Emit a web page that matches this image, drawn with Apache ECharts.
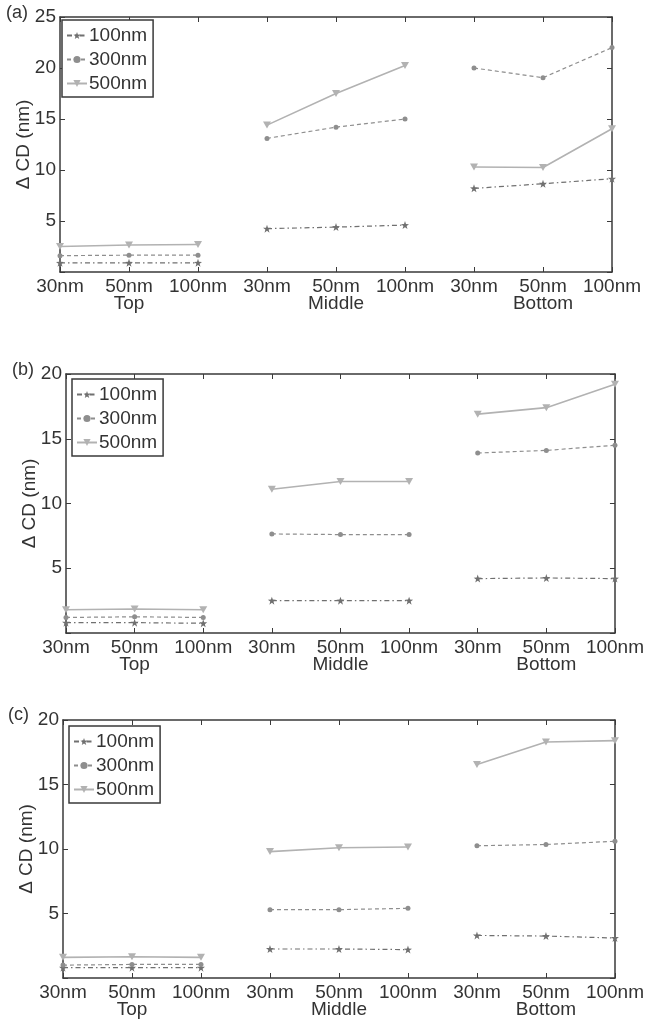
<!DOCTYPE html>
<html><head><meta charset="utf-8">
<script src="https://cdn.jsdelivr.net/npm/echarts@6/dist/echarts.min.js"></script>
<style>html,body{margin:0;padding:0;background:#fff}#c{width:647px;height:1020px}</style>
</head><body><div id="c"></div>
<script>
const tickLabels = ['30nm','50nm','100nm','30nm','50nm','100nm','30nm','50nm','100nm'];
const groupLabels = ['Top','Middle','Bottom'];
const seriesNames = ['100nm','300nm','500nm'];
const panelLabels = ['(a)','(b)','(c)'];
const yMax = [25, 20, 20];

const a100 = [0.9,0.9,0.9, 4.25,4.4,4.6, 8.2,8.65,9.15];
const a300 = [1.6,1.65,1.65, 13.1,14.2,15.0, 20.0,19.05,22.0];
const a500 = [2.5,2.65,2.7, 14.4,17.5,20.25, 10.3,10.25,14.05];

const b100 = [0.8,0.8,0.75, 2.5,2.5,2.5, 4.2,4.25,4.2];
const b300 = [1.2,1.25,1.2, 7.65,7.6,7.6, 13.9,14.1,14.5];
const b500 = [1.8,1.85,1.8, 11.1,11.7,11.7, 16.9,17.4,19.2];

const c100 = [0.8,0.8,0.8, 2.25,2.25,2.2, 3.3,3.25,3.1];
const c300 = [1.0,1.05,1.05, 5.3,5.3,5.4, 10.25,10.35,10.6];
const c500 = [1.6,1.65,1.6, 9.8,10.1,10.15, 16.55,18.3,18.4];

const panels = [[a100,a300,a500],[b100,b300,b500],[c100,c300,c500]];

const FONT = 'Liberation Sans, Arial, Helvetica, sans-serif';
const AX = '#3a3a3a';
const TXT = '#333';
const grids = [
  {left:60, top:17, width:552, height:255},
  {left:66, top:374, width:551, height:259},
  {left:63, top:720, width:552, height:258}
];
const legendPos = [{left:62,top:20},{left:72,top:379},{left:69,top:726}];
const panelLabelPos = [{left:6,top:4},{left:12,top:361},{left:8,top:706}];

const STAR = 'path://M0,-10 L2.35,-3.24 L9.51,-3.09 L3.8,1.24 L5.88,8.09 L0,4 L-5.88,8.09 L-3.8,1.24 L-9.51,-3.09 L-2.35,-3.24 Z';
const TRI = 'path://M0,0 L10,0 L5,8.5 Z';
const styles = [
  {color:'#707070', symbol:STAR, symbolSize:8, lineType:[5,3,1.5,3], width:1.2},
  {color:'#8e8e8e', symbol:'circle', symbolSize:5, lineType:[4,3], width:1.2},
  {color:'#b2b2b2', symbol:TRI, symbolSize:[8,7], lineType:'solid', width:1.6}
];

const xAxes = [], yAxes = [], series = [], legends = [], graphics = [];
const cats = tickLabels.map((_, i) => String(i));
grids.forEach((g, p) => {
  const base = {
    type:'category', gridIndex:p, data:cats, boundaryGap:false,
    axisLine:{show:true, onZero:false, lineStyle:{color:AX, width:1.5}},
    axisTick:{show:true, inside:true, length:5, interval:0, alignWithLabel:true, lineStyle:{color:AX, width:1}},
    splitLine:{show:false}
  };
  xAxes.push(Object.assign({}, base, {
    position:'bottom',
    axisLabel:{show:true, interval:0, hideOverlap:false, color:TXT, fontFamily:FONT, fontSize:19, margin:6, lineHeight:17,
      formatter:(v, i) => (i % 3 === 1) ? tickLabels[i] + '\n' + groupLabels[(i - 1) / 3] : tickLabels[i]}
  }));
  xAxes.push(Object.assign({}, base, {position:'top', axisLabel:{show:false}}));
  const ybase = {
    type:'value', gridIndex:p, min:0, max:yMax[p], interval:5,
    axisLine:{show:true, lineStyle:{color:AX, width:1.5}},
    axisTick:{show:true, inside:true, length:5, lineStyle:{color:AX, width:1}},
    splitLine:{show:false}
  };
  yAxes.push(Object.assign({}, ybase, {
    position:'left', name:'Δ CD (nm)', nameLocation:'middle', nameGap:27, nameRotate:90,
    nameMoveOverlap:false,
    nameTextStyle:{color:TXT, fontFamily:FONT, fontSize:19},
    axisLabel:{show:true, color:TXT, fontFamily:FONT, fontSize:19, margin:4,
      formatter:v => v === 0 ? '' : String(v)}
  }));
  yAxes.push(Object.assign({}, ybase, {position:'right', axisLabel:{show:false}}));

  panels[p].forEach((vals, s) => {
    const st = styles[s];
    for (let gi = 0; gi < 3; gi++) {
      const data = vals.map((v, i) => (Math.floor(i / 3) === gi) ? v : '-');
      series.push({
        type:'line', name:seriesNames[s], xAxisIndex:2 * p, yAxisIndex:2 * p,
        data, symbol:st.symbol, symbolSize:st.symbolSize, showSymbol:true,
        connectNulls:false, animation:false, silent:true,
        itemStyle:{color:st.color, borderWidth:0},
        lineStyle:{color:st.color, width:st.width, type:st.lineType}
      });
    }
  });

  legends.push({
    data:seriesNames, orient:'vertical', left:legendPos[p].left, top:legendPos[p].top,
    itemWidth:20, itemHeight:9, itemGap:5, padding:[6,6,4,4],
    borderColor:AX, borderWidth:1.5, backgroundColor:'#fff', selectedMode:false,
    textStyle:{color:TXT, fontFamily:FONT, fontSize:19, padding:[0,0,0,-3]}
  });
  graphics.push({type:'text', left:panelLabelPos[p].left, top:panelLabelPos[p].top,
    style:{text:panelLabels[p], fill:TXT, font:'18px ' + FONT}});
});

const chart = echarts.init(document.getElementById('c'), null, {renderer:'canvas'});
chart.setOption({
  animation:false, backgroundColor:'#fff',
  grid:grids.map(g => Object.assign({containLabel:false}, g)),
  xAxis:xAxes, yAxis:yAxes, series, legend:legends, graphic:graphics
});
</script></body></html>
